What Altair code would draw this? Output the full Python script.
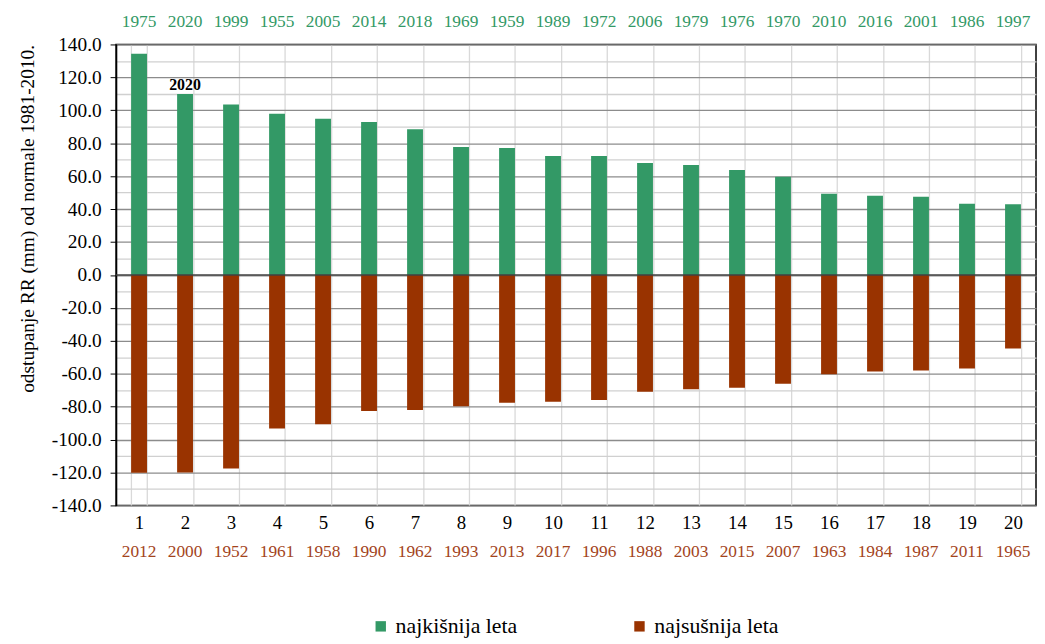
import altair as alt
import pandas as pd

ranks = list(range(1, 21))
wet_years = ["1975", "2020", "1999", "1955", "2005", "2014", "2018", "1969", "1959", "1989",
             "1972", "2006", "1979", "1976", "1970", "2010", "2016", "2001", "1986", "1997"]
wet_values = [134.3, 109.9, 103.5, 97.9, 94.9, 92.9, 88.5, 77.7, 77.1, 72.3,
              72.3, 68.0, 66.8, 63.8, 59.6, 49.3, 48.1, 47.5, 43.2, 43.0]
dry_years = ["2012", "2000", "1952", "1961", "1958", "1990", "1962", "1993", "2013", "2017",
             "1996", "1988", "2003", "2015", "2007", "1963", "1984", "1987", "2011", "1965"]
dry_values = [-120.2, -120.0, -117.6, -93.3, -90.7, -82.7, -82.0, -79.8, -77.6, -77.0,
              -76.0, -70.9, -69.5, -68.5, -66.1, -60.4, -58.6, -58.0, -56.8, -44.7]
series_names = ["najkišnija leta", "najsušnija leta"]
series_colors = ["#339966", "#993300"]
highlight_year = "2020"
y_title = "odstupanje RR (mm)  od normale 1981-2010."

rows = []
for r, yr, v in zip(ranks, wet_years, wet_values):
    rows.append({"rank": r, "year": yr, "value": v, "series": series_names[0]})
for r, yr, v in zip(ranks, dry_years, dry_values):
    rows.append({"rank": r, "year": yr, "value": v, "series": series_names[1]})
df = pd.DataFrame(rows)
zero_df = pd.DataFrame({"value": [0]})

FONT = "Liberation Serif"
W, H = 928, 465

def xscale():
    return alt.Scale(domain=ranks, paddingInner=0.655, paddingOuter=0.3275)

yscale = alt.Scale(domain=[-140, 140], nice=False)

def arr_expr(lst):
    return "[" + ",".join("'%s'" % s for s in lst) + "][datum.value - 1]"

major = "datum.value % 20 === 0"

def y_axis():
    return alt.Axis(
        values=list(range(-140, 141, 10)),
        labelExpr="datum.value % 20 === 0 ? (datum.value < 0 ? '-' : '') + format(abs(datum.value), '.1f') : ''",
        labelFontSize=19.5, labelColor="black", labelPadding=9, labelFont=FONT,
        tickSize=6, tickColor="black",
        tickOpacity={"condition": {"test": major, "value": 1}, "value": 0},
        gridColor={"condition": {"test": major, "value": "#8c8c8c"}, "value": "#d0d0d0"},
        gridWidth=1.3,
        domainColor="black", domainWidth=1.5,
        title=y_title, titleFontSize=19.5, titleFontWeight="normal", titleColor="black",
        titlePadding=14, titleAnchor="end", titleFont=FONT,
    )

def Y():
    return alt.Y("value:Q", scale=yscale, axis=y_axis())

bars = alt.Chart(df).mark_bar().encode(
    x=alt.X("rank:O", scale=xscale(), axis=alt.Axis(
        orient="bottom", title=None, labelAngle=0, labelFontSize=19, labelColor="black",
        labelPadding=8, ticks=False, domain=False, grid=True, tickBand="extent",
        gridColor="#d9d9d9", gridWidth=1.3, labelFont=FONT)),
    y=Y(),
    color=alt.Color("series:N",
                    scale=alt.Scale(domain=series_names, range=series_colors),
                    legend=alt.Legend(title=None, orient="none", legendX=256, legendY=576,
                                      direction="horizontal",
                                      symbolType="square", symbolSize=110, symbolStrokeWidth=0,
                                      labelFontSize=22, labelColor="black", columnPadding=112,
                                      labelFont=FONT)),
)

top_years = alt.Chart(df[df.series == series_names[0]]).mark_bar(opacity=0).encode(
    x=alt.X("rank:O", scale=xscale(), axis=alt.Axis(
        orient="top", title=None, labelAngle=0, labelExpr=arr_expr(wet_years),
        labelColor="#339966", labelFontSize=17.5, ticks=False, domain=False, grid=False,
        labelPadding=14, labelFont=FONT)),
    y=Y(),
)

bottom_years = alt.Chart(df[df.series == series_names[1]]).mark_bar(opacity=0).encode(
    x=alt.X("rank:O", scale=xscale(), axis=alt.Axis(
        orient="bottom", title=None, labelAngle=0, labelExpr=arr_expr(dry_years),
        labelColor="#a3441c", labelFontSize=17.5, ticks=False, domain=False, grid=False,
        labelPadding=8, offset=30, labelFont=FONT)),
    y=Y(),
)

zero_line = alt.Chart(zero_df).mark_rule(color="#404040", size=1.5).encode(y=Y())

note = alt.Chart(df).transform_filter(
    alt.datum.year == highlight_year
).transform_filter(alt.datum.series == series_names[0]).mark_text(
    fontWeight="bold", fontSize=16, baseline="bottom", dy=-1, color="black", font=FONT
).encode(
    x=alt.X("rank:O", scale=xscale(), axis=None),
    y=Y(),
    text="year:N",
)

chart = alt.layer(bars, zero_line, note, top_years, bottom_years).resolve_scale(
    x="independent"
).resolve_axis(x="independent").properties(
    width=W, height=H,
    padding={"left": 9, "top": 2, "right": 0, "bottom": 0},
).configure(font=FONT).configure_view(stroke="black", strokeWidth=1.5)

chart.save("out.html", embed_options={"renderer": "svg", "actions": False})
